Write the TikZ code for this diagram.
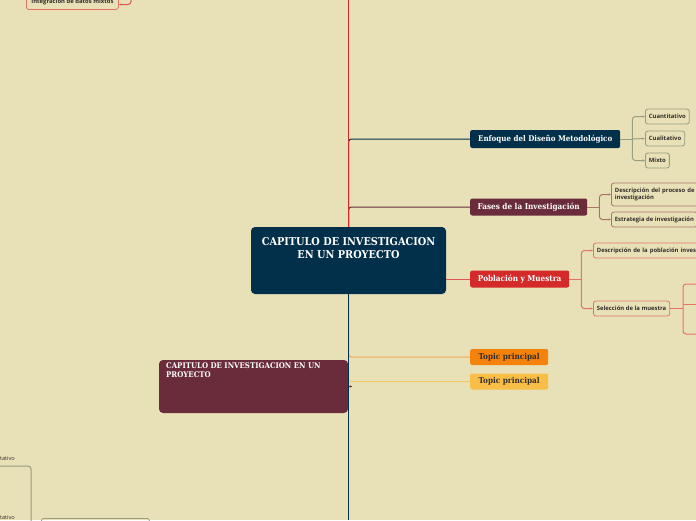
\documentclass[tikz,border=0pt]{standalone}
\usepackage{fontspec}
\setmainfont{DejaVu Serif}
\newfontfamily\slabfont{DejaVu Serif Condensed}
\newfontfamily\smallfont{Open Sans}
\usetikzlibrary{arrows.meta}
\definecolor{bg}{RGB}{232,225,184}
\definecolor{navy}{RGB}{2,48,74}
\definecolor{maroon}{RGB}{106,44,58}
\definecolor{redn}{RGB}{212,42,42}
\definecolor{orangen}{RGB}{245,130,10}
\definecolor{yellown}{RGB}{249,190,72}
\definecolor{grayb}{RGB}{150,158,128}
\definecolor{maroonb}{RGB}{170,115,105}
\definecolor{redb}{RGB}{228,115,100}
\definecolor{orangel}{RGB}{240,168,80}
\definecolor{yellowl}{RGB}{245,200,105}
\definecolor{darktext}{RGB}{50,45,40}
\tikzset{
  topicbox/.style={rounded corners=2pt, inner sep=0pt, anchor=west, text=white,
    font=\slabfont\bfseries\fontsize{8.1}{9}\selectfont},
  subbox/.style={rounded corners=2.5pt, draw, line width=0.8pt, fill=bg, inner ysep=0pt, inner xsep=3.5pt,
    anchor=west, text=darktext, minimum height=15pt, align=left,
    font=\smallfont\bfseries\fontsize{5.9}{7}\selectfont},
  fragtext/.style={anchor=east, inner sep=0pt, text=darktext, font=\smallfont\fontsize{5.6}{7}\selectfont},
  conn/.style={line width=1pt, rounded corners=3pt},
  tip/.style={-{Latex[length=2.5pt,width=2.5pt]}}
}
\begin{document}
\begin{tikzpicture}[x=1pt,y=-1pt]
\useasboundingbox (0,0) rectangle (696,520);
\clip (0,0) rectangle (696,520);
\fill[bg] (0,0) rectangle (696,520);

% coordinates for off-picture ends
\coordinate (topend) at (348.5,0);
\coordinate (bottomend) at (348.5,520);

% central node
\node[fill=navy, rounded corners=4pt, minimum width=195pt, minimum height=67pt, inner sep=0pt] (central) at (348.5,260.5) {};
\node[text=white, align=center, font=\slabfont\bfseries\fontsize{10.8}{13.5}\selectfont] (centraltext) at (348.5,248) {CAPITULO DE INVESTIGACION\\EN UN PROYECTO};

% main topics
\node[topicbox, fill=navy, minimum width=150pt, minimum height=18pt, font=\slabfont\bfseries\fontsize{7.9}{9}\selectfont] (enfoque) at (470,139) {Enfoque del Diseño Metodológico};
\node[topicbox, fill=maroon, minimum width=117pt, minimum height=17pt] (fases) at (470,207) {Fases de la Investigación};
\node[topicbox, fill=redn, minimum width=99pt, minimum height=17pt] (poblacion) at (470,279) {Población y Muestra};
\node[topicbox, fill=orangen, text=darktext, minimum width=78pt, minimum height=16pt] (topic1) at (470,357) {Topic principal};
\node[topicbox, fill=yellown, text=darktext, minimum width=78pt, minimum height=16pt] (topic2) at (470,381.5) {Topic principal};

% lower-left maroon box
\node[fill=maroon, rounded corners=4pt, minimum width=189pt, minimum height=53pt, inner sep=0pt] (maroonbox) at (253.5,386.5) {};
\node[text=white, anchor=north west, align=left, inner sep=0pt, font=\slabfont\bfseries\fontsize{7.8}{8.6}\selectfont] (maroontext) at (166,362.5) {CAPITULO DE INVESTIGACION EN UN\\PROYECTO};

% children of Enfoque
\node[subbox, draw=grayb] (cuanti) at (645,116.5) {Cuantitativo};
\node[subbox, draw=grayb] (cuali) at (645,138.5) {Cualitativo};
\node[subbox, draw=grayb] (mixto) at (645,160.5) {Mixto};

% children of Fases
\node[subbox, draw=maroonb, minimum height=23pt, text width=100pt] (descproc) at (611,194.5) {Descripción del proceso de\\investigación};
\node[subbox, draw=maroonb] (estrategia) at (611,219.5) {Estrategia de investigación};

% children of Poblacion
\node[subbox, draw=redb, text width=110pt] (descpob) at (593,250.5) {Descripción de la población inves};
\node[subbox, draw=redb] (seleccion) at (593,308.5) {Selección de la muestra};
\coordinate (selA) at (700,284);
\coordinate (selB) at (700,304);
\coordinate (selC) at (700,334);

% top-left fragment
\node[subbox, draw=redb, minimum height=16pt, minimum width=92pt] (integracion) at (26,1.5) {Integración de datos mixtos};
\coordinate (tlup) at (131,-2);

% bottom-left fragment
\node[fragtext] (frag1) at (15,458.5) {tativo};
\node[fragtext] (frag2) at (15,517.5) {tativo};
\coordinate (bl1) at (-2,466);
\coordinate (bl2) at (31,524);
\node[draw=grayb, line width=0.8pt, rounded corners=2.5pt, minimum width=108pt, minimum height=14pt, inner sep=0pt, anchor=north west] (blbox) at (41,518) {};

% connectors
\draw[conn, navy] (central.north) |- (enfoque.west);
\draw[conn, maroon] (central.north) |- (fases.west);
\draw[conn, redn!80] (central.east |- poblacion.west) -- (poblacion.west);
\draw[conn, orangel] (central.south) |- (topic1.west);
\draw[conn, yellowl] (central.south) |- (topic2.west);
\draw[line width=1pt, redn] (central.north) -- (topend);
\draw[line width=1pt, navy] (central.south) -- (bottomend);
\draw[tip, maroon, line width=0.6pt] (352,386.5) -- (maroonbox.east);

% Enfoque children
\draw[conn, grayb] (enfoque.east) -- ++(12,0) coordinate (enfj);
\draw[conn, grayb, tip] (enfj) |- (cuanti.west);
\draw[conn, grayb, tip] (enfj) -- (cuali.west);
\draw[conn, grayb, tip] (enfj) |- (mixto.west);

% Fases children
\draw[conn, maroonb] (fases.east) -- ++(12,0) coordinate (fasj);
\draw[conn, maroonb, tip] (fasj) |- (descproc.west);
\draw[conn, maroonb, tip] (fasj) |- (estrategia.west);

% Poblacion children
\draw[conn, redb] (poblacion.east) -- ++(12,0) coordinate (pobj);
\draw[conn, redb, tip] (pobj) |- (descpob.west);
\draw[conn, redb, tip] (pobj) |- (seleccion.west);
\draw[conn, redb] (seleccion.east) -- (683,308.5) coordinate (selj);
\draw[conn, redb] (selj) |- (selA);
\draw[conn, redb] (selj) |- (selC);
\draw[conn, redb] (683,304) -- (selB);

% top-left connector
\draw[conn, redn!80, tip] (tlup) |- (integracion.east |- 0,4.5);

% bottom-left connector
\draw[conn, grayb] (bl1) -| (bl2);
\end{tikzpicture}
\end{document}
